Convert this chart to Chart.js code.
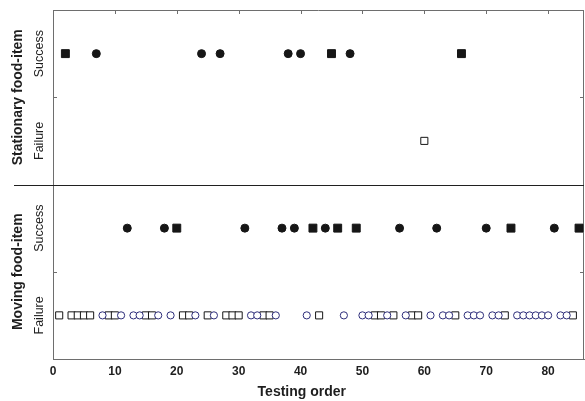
<!DOCTYPE html>
<html>
<head>
<meta charset="utf-8">
<script src="https://cdn.jsdelivr.net/npm/chart.js@4.4.1/dist/chart.umd.min.js"></script>
<style>
  html, body { margin: 0; padding: 0; background: #fff; overflow: hidden; }
  #wrap { position: absolute; left: 0; top: 0; width: 585px; height: 401px; }
</style>
</head>
<body>
<div id="wrap"><canvas id="trialChart"></canvas></div>
<script>
// testing order of each trial, split by panel, outcome and marker
var statSuccessCircles = [7, 24, 27, 38, 40, 48];
var statSuccessSquares = [2, 45, 66];
var statFailureSquares = [60];
var movSuccessCircles = [12, 18, 31, 37, 39, 44, 56, 62, 70, 81];
var movSuccessSquares = [20, 42, 46, 49, 74, 85];
var movFailureCircles = [8, 11, 13, 14, 17, 19, 23, 26, 32, 33, 36, 41, 47, 50, 51, 54, 57, 61, 63, 64,
  67, 68, 69, 71, 72, 75, 76, 77, 78, 79, 80, 82, 83];
var movFailureSquares = [1, 3, 4, 5, 6, 9, 10, 15, 16, 21, 22, 25, 28, 29, 30, 34, 35, 43, 52, 53,
  55, 58, 59, 65, 73, 84];

var panels = ["Moving food-item", "Stationary food-item"];   // bottom, top
var outcomes = ["Failure", "Success"];
var xTicks = [0, 10, 20, 30, 40, 50, 60, 70, 80];
var xTitle = "Testing order";

// row centre on the y scale: each panel is 2 units tall
function rowY(panel, outcome) {
  return panel * 2 + outcome + 0.5;
}
function pts(arr, panel, outcome) {
  return arr.map(function (v) { return { x: v, y: rowY(panel, outcome) }; });
}

var ink = "#161616";
var navy = "#2d2d7a";
var axisGrey = "#6e6e6e";

function filled(label, data, style, r) {
  return { label: label, data: data, pointStyle: style, pointRadius: r, pointHoverRadius: r,
    backgroundColor: ink, borderColor: ink, borderWidth: 1 };
}
function hollow(label, data, style, r, col) {
  return { label: label, data: data, pointStyle: style, pointRadius: r, pointHoverRadius: r,
    backgroundColor: "#ffffff", borderColor: col, borderWidth: 1 };
}

var framePlugin = {
  id: "frame",
  beforeDatasetsDraw: function (chart) {
    var c = chart.ctx, a = chart.chartArea, xs = chart.scales.x, ys = chart.scales.y;
    c.save();
    c.strokeStyle = axisGrey;
    c.lineWidth = 1;
    c.beginPath();
    c.moveTo(a.left, a.top + 0.5); c.lineTo(a.right, a.top + 0.5);
    c.moveTo(a.right - 0.5, a.top); c.lineTo(a.right - 0.5, a.bottom);
    xTicks.forEach(function (t) {
      var px = Math.round(xs.getPixelForValue(t)) + 0.5;
      c.moveTo(px, a.top); c.lineTo(px, a.top + 4);
    });
    [1, 3].forEach(function (t) {
      var py = Math.round(ys.getPixelForValue(t)) + 0.5;
      c.moveTo(a.left, py); c.lineTo(a.left + 4, py);
      c.moveTo(a.right, py); c.lineTo(a.right - 4, py);
    });
    c.stroke();
    // panel divider
    var dy = Math.round(ys.getPixelForValue(2)) + 0.5;
    c.strokeStyle = "#202020";
    c.beginPath();
    c.moveTo(14, dy); c.lineTo(a.right, dy);
    c.stroke();
    c.restore();
  },
  afterDraw: function (chart) {
    var c = chart.ctx, ys = chart.scales.y, xs = chart.scales.x;
    c.save();
    c.fillStyle = "#1e1e1e";
    c.textAlign = "center";
    c.textBaseline = "middle";
    panels.forEach(function (name, p) {
      outcomes.forEach(function (o, i) {
        c.save();
        c.translate(40, ys.getPixelForValue(rowY(p, i)));
        c.rotate(-Math.PI / 2);
        c.font = "12.5px 'Liberation Sans', Arial, sans-serif";
        c.fillText(o, 0, 0);
        c.restore();
      });
      c.save();
      c.translate(18, ys.getPixelForValue(p * 2 + 1));
      c.rotate(-Math.PI / 2);
      c.font = "bold 14px 'Liberation Sans', Arial, sans-serif";
      c.fillText(name, 0, 0);
      c.restore();
    });
    // axis title sits a little left of the plot centre in the original
    c.font = "bold 14px 'Liberation Sans', Arial, sans-serif";
    c.fillText(xTitle, xs.getPixelForValue(40.2), 392);
    c.restore();
  }
};

var ctx = document.getElementById("trialChart").getContext("2d");
var trialChart = new Chart(ctx, {
  type: "scatter",
  data: {
    datasets: [
      filled("Stationary success (circle)", pts(statSuccessCircles, 1, 1), "circle", 4),
      filled("Stationary success (square)", pts(statSuccessSquares, 1, 1), "rect", 5.6),
      hollow("Stationary failure (square)", pts(statFailureSquares, 1, 0), "rect", 5, ink),
      filled("Moving success (circle)", pts(movSuccessCircles, 0, 1), "circle", 4),
      filled("Moving success (square)", pts(movSuccessSquares, 0, 1), "rect", 5.6),
      hollow("Moving failure (circle)", pts(movFailureCircles, 0, 0), "circle", 3.6, navy),
      hollow("Moving failure (square)", pts(movFailureSquares, 0, 0), "rect", 5, ink),
    ],
  },
  options: {
    responsive: true,
    maintainAspectRatio: false,
    animation: false,
    layout: { autoPadding: false, padding: { top: 10, right: 1, left: 0, bottom: 0 } },
    plugins: {
      legend: { display: false },
      tooltip: { enabled: false },
    },
    scales: {
      x: {
        type: "linear",
        min: 0,
        max: 85.8,
        afterBuildTicks: function (s) { s.ticks = xTicks.map(function (v) { return { value: v }; }); },
        grid: { display: false, drawTicks: false },
        border: { display: true, color: axisGrey, width: 1 },
        ticks: {
          padding: 5,
          color: "#1e1e1e",
          font: { family: "'Liberation Sans', Arial, sans-serif", size: 12, weight: "bold" },
        },
        title: { display: false },
        afterFit: function (s) { s.height = 42; },
      },
      y: {
        type: "linear",
        min: 0,
        max: 4,
        grid: { display: false, drawTicks: false },
        border: { display: true, color: axisGrey, width: 1 },
        ticks: { display: false },
        afterFit: function (s) { s.width = 53; },
      },
    },
  },
  plugins: [framePlugin],
});
</script>
</body>
</html>
